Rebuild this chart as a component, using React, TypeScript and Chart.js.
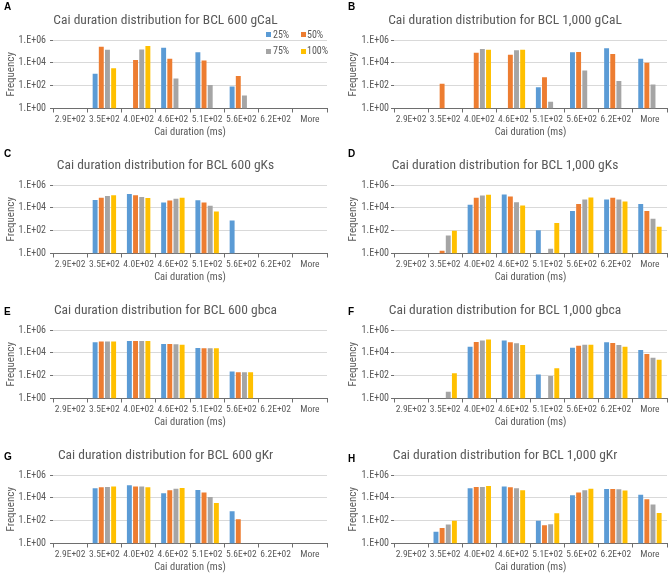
import React, { useEffect, useRef } from "react";
import { Chart, registerables } from "chart.js";

Chart.register(...registerables);

const FONT = "'Liberation Sans Narrow', 'Arial Narrow', 'Roboto Condensed', 'DejaVu Sans Condensed', sans-serif";
const TEXT = "#595959";
const GRID = "#D9D9D9";
const AXIS = "#6E6E6E";

const categories = ["2.9E+02", "3.5E+02", "4.0E+02", "4.6E+02", "5.1E+02", "5.6E+02", "6.2E+02", "More"];
const seriesLabels = ["25%", "50%", "75%", "100%"];
const seriesColors = ["#5B9BD5", "#ED7D31", "#A5A5A5", "#FFC000"];
const yTickValues = [1, 100, 10000, 1000000];
const xAxisTitle = "Cai duration (ms)";
const yAxisTitle = "Frequency";

// A: BCL 600 gCaL
const a25 = [null, 1100, null, 210000, 84000, 84, null, null];
const a50 = [null, 250000, 18000, 23000, 16000, 710, null, null];
const a75 = [null, 140000, 150000, 420, 117, 14, null, null];
const a100 = [null, 3300, 300000, null, null, null, null, null];
// B: BCL 1,000 gCaL
const b25 = [null, null, null, null, 73, 83000, 190000, 23000];
const b50 = [null, 150, 78000, 52000, 550, 90000, 60000, 10000];
const b75 = [null, null, 160000, 125000, 4, 2100, 260, 125];
const b100 = [null, null, 140000, 140000, null, null, null, null];
// C: BCL 600 gKs
const c25 = [null, 49000, 160000, 29000, 46000, 760, null, null];
const c50 = [null, 78000, 125000, 43000, 29000, null, null, null];
const c75 = [null, 110000, 88000, 64000, 15000, null, null, null];
const c100 = [null, 126000, 72000, 78000, 4700, null, null, null];
// D: BCL 1,000 gKs
const d25 = [null, null, 19000, 150000, 110, 5300, 54000, 22000];
const d50 = [null, 1.7, 76000, 100000, null, 22000, 76000, 5300];
const d75 = [null, 37, 120000, 31000, 2.6, 54000, 54000, 1100];
const d100 = [null, 96, 140000, 16000, 460, 81000, 36000, 218];
// E: BCL 600 gbca
const e25 = [null, 85000, 110000, 60000, 26000, 228, null, null];
const e50 = [null, 97000, 110000, 60000, 25000, 200, null, null];
const e75 = [null, 97000, 110000, 56000, 25000, 200, null, null];
const e100 = [null, 97000, 110000, 52000, 25000, 200, null, null];
// F: BCL 1,000 gbca
const f25 = [null, null, 34000, 120000, 126, 28000, 83000, 18000];
const f50 = [null, null, 90000, 83000, null, 42000, 73000, 8000];
const f75 = [null, 4, 120000, 68000, 95, 51000, 48000, 3700];
const f100 = [null, 166, 150000, 48000, 437, 51000, 34000, 2500];
// G: BCL 600 gKr
const g25 = [null, 69000, 126000, 25000, 49000, 670, null, null];
const g50 = [null, 84000, 100000, 46000, 29000, 134, null, null];
const g75 = [null, 89000, 96000, 64000, 12000, null, null, null];
const g100 = [null, 96000, 84000, 73000, 3600, null, null, null];
// H: BCL 1,000 gKr
const h25 = [null, 10.5, 69000, 96000, 96, 17000, 60000, 19000];
const h50 = [null, 23, 89000, 84000, 40, 29000, 60000, 7500];
const h75 = [null, 46, 89000, 69000, 49, 46000, 56000, 2600];
const h100 = [null, 96, 110000, 46000, 450, 64000, 43000, 480];

const panels = [
  { letter: "A", title: "Cai duration distribution for BCL 600 gCaL", series: [a25, a50, a75, a100], col: 0, row: 0 },
  { letter: "B", title: "Cai duration distribution for BCL 1,000 gCaL", series: [b25, b50, b75, b100], col: 1, row: 0 },
  { letter: "C", title: "Cai duration distribution for BCL 600 gKs", series: [c25, c50, c75, c100], col: 0, row: 1 },
  { letter: "D", title: "Cai duration distribution for BCL 1,000 gKs", series: [d25, d50, d75, d100], col: 1, row: 1 },
  { letter: "E", title: "Cai duration distribution for BCL 600 gbca", series: [e25, e50, e75, e100], col: 0, row: 2 },
  { letter: "F", title: "Cai duration distribution for BCL 1,000 gbca", series: [f25, f50, f75, f100], col: 1, row: 2 },
  { letter: "G", title: "Cai duration distribution for BCL 600 gKr", series: [g25, g50, g75, g100], col: 0, row: 3 },
  { letter: "H", title: "Cai duration distribution for BCL 1,000 gKr", series: [h25, h50, h75, h100], col: 1, row: 3 },
];

const letterTops = [2, 2, 149, 149, 307, 307, 452, 454];

function fmtExp(v: number) {
  const e = Math.round(Math.log10(v));
  return "1.E+" + String(e).padStart(2, "0");
}

function Panel({ p, idx }: { p: any; idx: number }) {
  const ref = useRef<HTMLCanvasElement | null>(null);
  const isRight = p.col === 1;
  const w = isRight ? 334 : 335;
  const h = 145;
  useEffect(() => {
    if (!ref.current) return;
    const chart = new Chart(ref.current, {
      type: "bar",
      data: {
        labels: categories,
        datasets: p.series.map((s: any, i: number) => ({
          label: seriesLabels[i],
          data: s,
          backgroundColor: seriesColors[i],
          borderWidth: 0,
          categoryPercentage: 0.72,
          barPercentage: 0.8,
        })),
      },
      options: {
        animation: false,
        responsive: false,
        events: [],
        layout: { padding: { left: isRight ? 8 : 4, right: isRight ? 2 : 8, top: 0, bottom: 6 } },
        plugins: {
          legend: { display: false },
          tooltip: { enabled: false },
          title: {
            display: true,
            text: p.title,
            color: TEXT,
            font: { family: FONT, size: 13.5, weight: "normal" },
            padding: { top: 12.5, bottom: 11.3 },
          },
        },
        scales: {
          x: {
            type: "category",
            offset: true,
            grid: { display: true, drawOnChartArea: false, drawTicks: true, tickLength: 4, tickColor: AXIS, offset: true },
            border: { display: true, color: AXIS, width: 1 },
            ticks: { color: TEXT, font: { family: FONT, size: 9.5 }, padding: 1.5, autoSkip: false, maxRotation: 0 },
            title: { display: true, text: xAxisTitle, color: TEXT, font: { family: FONT, size: 10.5 }, padding: { top: 0, bottom: 0 } },
            afterFit: (s: any) => { s.height = 30.5; },
          },
          y: {
            type: "logarithmic",
            min: 1,
            max: 1000000,
            afterBuildTicks: (s: any) => { s.ticks = yTickValues.map((v) => ({ value: v })); },
            grid: {
              color: (ctx: any) => (ctx.tick && ctx.tick.value === 1 ? "rgba(0,0,0,0)" : GRID),
              tickColor: AXIS,
              tickLength: 3,
              drawTicks: true,
            },
            border: { display: false },
            ticks: { color: TEXT, font: { family: FONT, size: 10 }, padding: isRight ? 2 : 4, callback: (v: any) => fmtExp(Number(v)) },
            title: { display: true, text: yAxisTitle, color: TEXT, font: { family: FONT, size: 11 }, padding: { top: isRight ? 4 : 1, bottom: 0 } },
            afterFit: (s: any) => { s.width = isRight ? 51 : 49; },
          },
        },
      } as any,
    });
    return () => chart.destroy();
  }, []);
  return (
    <div style={{ position: "absolute", left: p.col * 335, top: p.row * 145, width: w, height: h }}>
      <canvas ref={ref} width={w} height={h} style={{ display: "block" }} />
      <div
        style={{
          position: "absolute",
          left: isRight ? 13 : 4,
          top: letterTops[idx] - p.row * 145,
          fontFamily: "'Liberation Sans', Arial, sans-serif",
          fontWeight: "bold",
          fontSize: 10,
          lineHeight: "10px",
          color: "#000",
        }}
      >
        {p.letter}
      </div>
    </div>
  );
}

const legendPos = [
  { sx: 266, sy: 32, tx: 273, ty: 35 },
  { sx: 301, sy: 32, tx: 307, ty: 35 },
  { sx: 266, sy: 48.5, tx: 273, ty: 51 },
  { sx: 301, sy: 48.5, tx: 307, ty: 51 },
];

export default function App() {
  return (
    <div style={{ position: "absolute", left: 0, top: 0, width: 669, height: 580, background: "#fff", overflow: "hidden" }}>
      {panels.map((p, i) => (
        <Panel key={p.letter} p={p} idx={i} />
      ))}
      {seriesLabels.map((lab, i) => (
        <React.Fragment key={lab}>
          <div style={{ position: "absolute", left: legendPos[i].sx, top: legendPos[i].sy, width: 5, height: 5, background: seriesColors[i] }} />
          <div
            style={{
              position: "absolute",
              left: legendPos[i].tx,
              top: legendPos[i].ty - 6,
              height: 12,
              lineHeight: "12px",
              fontFamily: FONT,
              fontSize: 10,
              color: TEXT,
              whiteSpace: "nowrap",
            }}
          >
            {lab}
          </div>
        </React.Fragment>
      ))}
    </div>
  );
}
